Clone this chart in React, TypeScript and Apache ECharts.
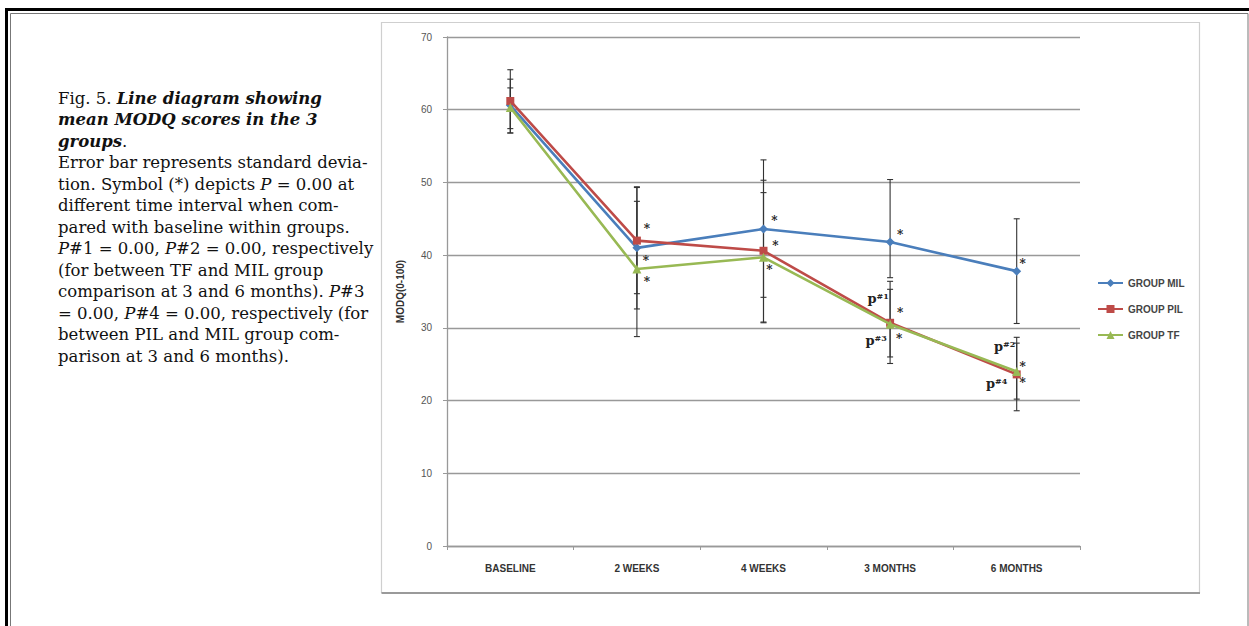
import React, { useEffect, useRef } from "react";
import * as echarts from "echarts";

const categories = ["BASELINE", "2 WEEKS", "4 WEEKS", "3 MONTHS", "6 MONTHS"];
const yTicks = { min: 0, max: 70, interval: 10 };

const milMean = [60.6, 41.0, 43.6, 41.8, 37.8];
const pilMean = [61.2, 42.0, 40.6, 30.7, 23.6];
const tfMean = [60.3, 38.1, 39.7, 30.5, 24.0];

const milLow = [56.8, 32.6, 34.2, 36.9, 30.6];
const milHigh = [64.2, 49.4, 53.1, 50.4, 45.0];
const pilLow = [56.8, 34.7, 30.8, 25.1, 18.6];
const pilHigh = [65.5, 49.3, 50.3, 36.4, 28.7];
const tfLow = [57.4, 28.8, 30.7, 26.0, 20.2];
const tfHigh = [63.0, 47.4, 48.6, 35.3, 27.9];

const seriesNames = ["GROUP MIL", "GROUP PIL", "GROUP TF"];

// annotation anchors: [category index, value], text
const annotCat = [1, 1, 1, 2, 2, 2, 3, 3, 3, 3, 3, 4, 4, 4, 4, 4];
const annotVal = [43.6, 39.2, 36.3, 44.7, 41.3, 38.0, 42.8, 32.0, 28.5, 34.1, 28.3, 38.8, 24.6, 22.4, 27.4, 22.4];
const annotText = ["*", "*", "*", "*", "*", "*", "*", "*", "*", "p{s|#1}", "p{s|#3}", "*", "*", "*", "p{s|#2}", "p{s|#4}"];
const annotDx = [10, 9, 10, 11, 12, 6, 10, 10, 9, -12, -14, 6, 6, 6, -12, -20];

const captionLines = [
  "Fig. 5. {bi|Line diagram showing}",
  "{bi|mean MODQ scores in the 3}",
  "{bi|groups}.",
  "Error bar represents standard devia-",
  "tion. Symbol (*) depicts {i|P} = 0.00 at",
  "different time interval when com-",
  "pared with baseline within groups.",
  "{i|P}#1 = 0.00, {i|P}#2 = 0.00, respectively",
  "(for between TF and MIL group",
  "comparison at 3 and 6 months). {i|P}#3",
  "= 0.00, {i|P}#4 = 0.00, respectively (for",
  "between PIL and MIL group com-",
  "parison at 3 and 6 months).",
];

const colors = ["#4A7EBB", "#BE4B48", "#98B954"];

export default function App() {
  const ref = useRef<HTMLDivElement>(null);
  useEffect(() => {
    if (!ref.current) return;
    const chart = echarts.init(ref.current, null, { renderer: "svg" });
    const serif = "'DejaVu Serif', serif";
    const narrow = "'Liberation Sans Narrow', 'Arial Narrow', 'Liberation Sans', sans-serif";
    const capSize = 16.5;

    const errData = (lo: number[], hi: number[]) => lo.map((l, i) => [i, l, hi[i]]);
    const errSeries = (name: string, lo: number[], hi: number[]) => ({
      type: "custom",
      name: name + "_err",
      z: 1,
      silent: true,
      data: errData(lo, hi),
      encode: { x: 0, y: [1, 2] },
      renderItem: (params: any, api: any) => {
        const x = api.value(0);
        const a = api.coord([x, api.value(1)]);
        const b = api.coord([x, api.value(2)]);
        const w = 3;
        const st = { stroke: "#333", lineWidth: 1.1 };
        return {
          type: "group",
          children: [
            { type: "line", shape: { x1: a[0], y1: a[1], x2: b[0], y2: b[1] }, style: st },
            { type: "line", shape: { x1: a[0] - w, y1: a[1], x2: a[0] + w, y2: a[1] }, style: st },
            { type: "line", shape: { x1: b[0] - w, y1: b[1], x2: b[0] + w, y2: b[1] }, style: st },
          ],
        };
      },
    });

    const lineSeries = (name: string, data: number[], color: string, symbol: string, size: number, z: number) => ({
      type: "line",
      name,
      data,
      z,
      symbol,
      symbolSize: size,
      lineStyle: { color, width: 2.6 },
      itemStyle: { color },
    });

    const annotData = annotCat.map((c, i) => [c, annotVal[i], i]);

    const graphics: any[] = [
      // page frame
      { type: "rect", shape: { x: 5, y: 8, width: 1244, height: 3 }, style: { fill: "#000" } },
      { type: "rect", shape: { x: 5, y: 8, width: 3, height: 618 }, style: { fill: "#000" } },
      { type: "line", shape: { x1: 10.5, y1: 13.5, x2: 1248, y2: 13.5 }, style: { stroke: "#777", lineWidth: 1 } },
      { type: "line", shape: { x1: 10.5, y1: 13.5, x2: 10.5, y2: 626 }, style: { stroke: "#777", lineWidth: 1 } },
      { type: "line", shape: { x1: 1248, y1: 13.5, x2: 1248, y2: 626 }, style: { stroke: "#777", lineWidth: 1 } },
      // chart frame
      { type: "rect", shape: { x: 381.5, y: 22.5, width: 818, height: 570 }, style: { fill: "none", stroke: "#cfcfcf", lineWidth: 1.2 } },
      { type: "line", shape: { x1: 381.5, y1: 593, x2: 1200, y2: 593 }, style: { stroke: "#9a9a9a", lineWidth: 1.8 } },
    ];
    captionLines.forEach((t, i) => {
      graphics.push({
        type: "text",
        x: 58,
        y: 98 + i * 21.5,
        style: {
          text: t,
          fontFamily: serif,
          fontSize: capSize,
          fill: "#111",
          verticalAlign: "middle",
          rich: {
            bi: { fontFamily: serif, fontSize: capSize, fontStyle: "italic", fontWeight: "bold", fill: "#111" },
            i: { fontFamily: serif, fontSize: capSize, fontStyle: "italic", fill: "#111" },
          },
        },
      });
    });

    chart.setOption({
      animation: false,
      backgroundColor: "#fff",
      color: colors,
      grid: { left: 447, top: 37, right: 169, bottom: 80, containLabel: false },
      legend: {
        orient: "vertical",
        left: 1092,
        top: 273,
        itemWidth: 25,
        itemHeight: 10,
        itemGap: 16,
        data: seriesNames,
        textStyle: { fontFamily: narrow, fontSize: 10, fontWeight: "bold", color: "#444" },
      },
      xAxis: {
        type: "category",
        data: categories,
        boundaryGap: true,
        axisLine: { lineStyle: { color: "#999", width: 1.3 } },
        axisTick: { show: true, length: 4, lineStyle: { color: "#999" } },
        axisLabel: { margin: 17, fontFamily: narrow, fontSize: 10, fontWeight: "bold", color: "#333" },
      },
      yAxis: {
        type: "value",
        min: yTicks.min,
        max: yTicks.max,
        interval: yTicks.interval,
        name: "MODQ(0-100)",
        nameLocation: "middle",
        nameGap: 42,
        nameRotate: 90,
        nameTextStyle: { fontFamily: narrow, fontSize: 10, fontWeight: "bold", color: "#333" },
        axisLine: { show: true, lineStyle: { color: "#999", width: 1.3 } },
        axisTick: { show: true, length: 4, lineStyle: { color: "#999" } },
        axisLabel: { margin: 15, fontFamily: narrow, fontSize: 10, color: "#555" },
        splitLine: { lineStyle: { color: "#999", width: 1.3 } },
      },
      graphic: graphics,
      series: [
        errSeries("mil", milLow, milHigh),
        errSeries("pil", pilLow, pilHigh),
        errSeries("tf", tfLow, tfHigh),
        lineSeries(seriesNames[0], milMean, colors[0], "diamond", 9, 3),
        lineSeries(seriesNames[1], pilMean, colors[1], "rect", 8, 4),
        lineSeries(seriesNames[2], tfMean, colors[2], "triangle", 9, 5),
        {
          type: "custom",
          name: "annotations",
          z: 10,
          silent: true,
          data: annotData,
          encode: { x: 0, y: 1 },
          renderItem: (params: any, api: any) => {
            const idx = api.value(2);
            const p = api.coord([api.value(0), api.value(1)]);
            return {
              type: "text",
              x: p[0] + annotDx[idx],
              y: p[1],
              style: {
                text: annotText[idx],
                fontFamily: serif,
                fontSize: annotText[idx] === "*" ? 12 : 13,
                fontWeight: "bold",
                fill: "#222",
                align: "center",
                verticalAlign: "middle",
                rich: {
                  s: { fontFamily: serif, fontSize: 8, fontWeight: "bold", fill: "#222", verticalAlign: "top" },
                },
              },
            };
          },
        },
      ],
    });
    return () => chart.dispose();
  }, []);
  return <div ref={ref} style={{ position: "fixed", left: 0, top: 0, width: 1249, height: 626 }} />;
}
